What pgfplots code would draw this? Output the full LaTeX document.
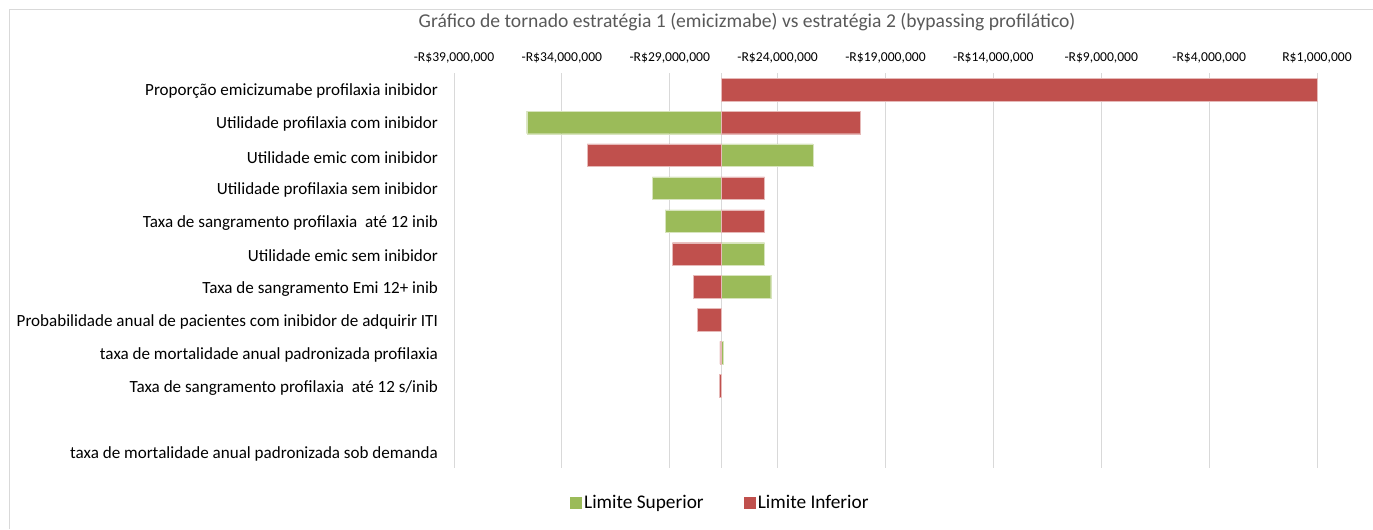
\documentclass[border=0pt]{standalone}
\usepackage{pgfplots}
\pgfplotsset{compat=1.18}
\usepackage{pgfplotstable}
\usepackage{fontspec}
\setmainfont{Carlito}
\definecolor{vg}{HTML}{9BBB59}
\definecolor{vr}{HTML}{C0504D}
\definecolor{gridc}{HTML}{D9D9D9}
\definecolor{titc}{HTML}{595959}

% values in millions of R$
\pgfplotstableread{
idx val
2 -35.63
3 -22.37
4 -29.81
5 -29.22
6 -24.60
7 -24.32
9 -26.52
}\superior
\pgfplotstableread{
idx val
1 1.00
2 -20.19
3 -32.83
4 -24.60
5 -24.60
6 -28.88
7 -27.91
8 -27.72
9 -26.68
10 -26.69
}\inferior
\def\base{26.61}

\begin{document}
\begin{tikzpicture}
\path[use as bounding box] (0,0) rectangle (1029.75pt,-396.75pt);
\draw[gridc, line width=0.75pt] (6.75pt,-396.75pt) -- (6.75pt,-6.75pt) -- (1029.75pt,-6.75pt);
\node[font=\fontsize{14.7}{17}\selectfont, text=titc] at (560.3pt,-16.5pt)
  {Gráfico de tornado estratégia 1 (emicizmabe) vs estratégia 2 (bypassing profilático)};
\begin{axis}[
  at={(340.5pt,-351pt)}, anchor=south west,
  scale only axis, width=647.25pt, height=296.25pt,
  xbar, bar width=17pt, bar shift=0pt,
  y dir=reverse, ymin=0.5, ymax=12.5,
  xmin=-12.39, xmax=27.61,
  xtick={-12.39,-7.39,-2.39,2.61,7.61,12.61,17.61,22.61,27.61},
  xticklabels={{-R\$39,000,000},{-R\$34,000,000},{-R\$29,000,000},{-R\$24,000,000},{-R\$19,000,000},{-R\$14,000,000},{-R\$9,000,000},{-R\$4,000,000},{R\$1,000,000}},
  xticklabel pos=upper,
  xticklabel style={font=\fontsize{10.2}{12}\selectfont, yshift=4pt},
  ytick={1,...,12},
  yticklabels={Proporção emicizumabe profilaxia inibidor,
    Utilidade profilaxia com inibidor,
    Utilidade emic com inibidor,
    Utilidade profilaxia sem inibidor,
    Taxa de sangramento profilaxia\ \ até 12 inib,
    Utilidade emic sem inibidor,
    Taxa de sangramento Emi 12+ inib,
    Probabilidade anual de pacientes com inibidor de adquirir ITI,
    taxa de mortalidade anual padronizada profilaxia,
    Taxa de sangramento profilaxia\ \ até 12 s/inib,
    {},
    taxa de mortalidade anual padronizada sob demanda},
  yticklabel style={font=\fontsize{12.8}{15}\selectfont, xshift=-8.5pt, yshift=-1.5pt},
  axis line style={draw=none},
  major tick length=0pt,
  xmajorgrids, grid style={gridc, line width=0.75pt},
  extra x ticks={0}, extra x tick labels={},
  extra x tick style={grid=major},
  legend style={at={(0.309,-0.087)}, anchor=center, draw=none,
    font=\fontsize{14.5}{17}\selectfont,
    /tikz/every even column/.append style={column sep=28pt}},
  legend columns=2,
  clip=false,
]
\addplot[fill=vg, draw=vg!40, line width=0.3pt,
  legend image code/.code={\fill[vg] (0pt,-4.1pt) rectangle (8.25pt,4.1pt);}]
  table[x expr=\thisrow{val}+\base, y=idx] {\superior};
\addlegendentry{Limite Superior}
\addplot[fill=vr, draw=vr!40, line width=0.3pt,
  legend image code/.code={\fill[vr] (0pt,-4.1pt) rectangle (8.25pt,4.1pt);}]
  table[x expr=\thisrow{val}+\base, y=idx] {\inferior};
\addlegendentry{Limite Inferior}
\end{axis}
\end{tikzpicture}
\end{document}
